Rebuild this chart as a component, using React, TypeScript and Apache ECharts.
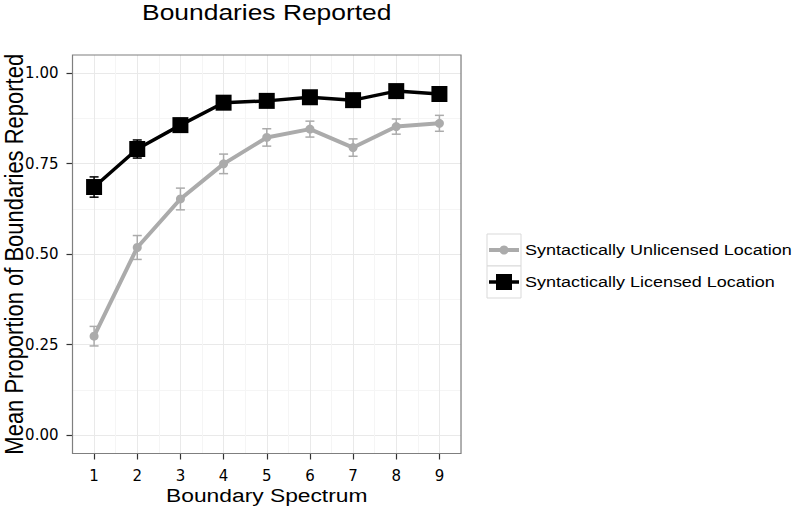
import React, { useEffect, useRef } from "react";
import * as echarts from "echarts";

const categories = [1, 2, 3, 4, 5, 6, 7, 8, 9];
const tickLabels = ["1", "2", "3", "4", "5", "6", "7", "8", "9"];
const yTickValues = [0, 0.25, 0.5, 0.75, 1.0];
const licensedMean = [0.685, 0.79, 0.856, 0.918, 0.923, 0.933, 0.925, 0.95, 0.942];
const licensedErr = [0.028, 0.025, 0.018, 0.015, 0.015, 0.012, 0.012, 0.012, 0.012];
const unlicensedMean = [0.273, 0.518, 0.652, 0.749, 0.822, 0.845, 0.794, 0.852, 0.861];
const unlicensedErr = [0.027, 0.033, 0.03, 0.027, 0.024, 0.022, 0.024, 0.021, 0.022];
const seriesNames = ["Syntactically Unlicensed Location", "Syntactically Licensed Location"];

const FONT = "'Liberation Sans', Arial, Helvetica, sans-serif";
const TICKFONT = "'DejaVu Sans', 'Liberation Sans', sans-serif";
const GRAY = "#ababab";
const BLACK = "#000000";
const SX = 1.2;

const PL = 72.5, PR = 461, PT = 55, PB = 453.5;

function errorBars(mean: number[], err: number[]) {
  return categories.map((c, i) => [c, mean[i] - err[i], mean[i] + err[i]]);
}

function errRender(color: string, w: number, lw: number) {
  return (params: any, api: any) => {
    const x = api.value(0);
    const lo = api.value(1);
    const hi = api.value(2);
    const t = api.coord([x, hi]);
    const b = api.coord([x, lo]);
    const style = { stroke: color, lineWidth: lw };
    return {
      type: "group",
      children: [
        { type: "line", shape: { x1: t[0], y1: t[1], x2: b[0], y2: b[1] }, style },
        { type: "line", shape: { x1: t[0] - w, y1: t[1], x2: t[0] + w, y2: t[1] }, style },
        { type: "line", shape: { x1: b[0] - w, y1: b[1], x2: b[0] + w, y2: b[1] }, style },
      ],
    };
  };
}

export default function App() {
  const ref = useRef<HTMLDivElement>(null);
  useEffect(() => {
    if (!ref.current) return;
    const chart = echarts.init(ref.current, null, { renderer: "svg" });
    const option: any = {
      animation: false,
      backgroundColor: "#ffffff",
      textStyle: { fontFamily: FONT },
      grid: [
        { left: PL, right: 800 - PR, top: PT, bottom: 509 - PB, show: false },
        { left: PL, right: 800 - PR, top: 73, bottom: 509 - 435, show: false },
      ],
      xAxis: [
        {
          gridIndex: 0,
          type: "value",
          min: 0.5,
          max: 9.5,
          interval: 0.5,
          axisLine: { show: false },
          axisTick: { show: false },
          axisLabel: { show: false },
          splitLine: { show: true, lineStyle: { color: ["#f5f5f5", "#e9e9e9"], width: 1 } },
        },
        {
          gridIndex: 0,
          type: "category",
          data: tickLabels,
          boundaryGap: true,
          position: "bottom",
          axisLine: { show: false },
          axisTick: { show: true, alignWithLabel: true, length: 6, lineStyle: { color: "#333", width: 1.2 } },
          axisLabel: { color: "#000", fontSize: 15, margin: 15, fontFamily: TICKFONT },
          splitLine: { show: false },
        },
        {
          gridIndex: 1,
          type: "value",
          min: 0.5,
          max: 9.5,
          show: false,
        },
      ],
      yAxis: [
        { gridIndex: 0, type: "value", min: -0.05, max: 1.05, show: false },
        {
          gridIndex: 1,
          type: "value",
          min: 0,
          max: 1,
          interval: 0.125,
          position: "left",
          axisLine: { show: false },
          axisTick: { show: false },
          axisLabel: { show: false },
          splitLine: { show: true, lineStyle: { color: ["#e9e9e9", "#f5f5f5"], width: 1 } },
        },
        {
          gridIndex: 1,
          type: "value",
          min: 0,
          max: 1,
          interval: 0.25,
          position: "left",
          axisLine: { show: false },
          axisTick: { show: true, length: 6, lineStyle: { color: "#333", width: 1.2 } },
          axisLabel: {
            color: "#000",
            fontSize: 15,
            margin: 14,
            fontFamily: TICKFONT,
            formatter: (v: number) => (yTickValues.includes(v) ? v.toFixed(2) : ""),
          },
          splitLine: { show: false },
        },
      ],
      series: [
        {
          type: "custom",
          name: seriesNames[0] + " err",
          xAxisIndex: 2,
          yAxisIndex: 1,
          renderItem: errRender(GRAY, 4.5, 1.5),
          encode: { x: 0, y: [1, 2] },
          data: errorBars(unlicensedMean, unlicensedErr),
          z: 2,
          silent: true,
        },
        {
          type: "line",
          name: seriesNames[0],
          xAxisIndex: 2,
          yAxisIndex: 1,
          data: categories.map((c, i) => [c, unlicensedMean[i]]),
          symbol: "circle",
          symbolSize: 9,
          lineStyle: { color: GRAY, width: 4 },
          itemStyle: { color: GRAY },
          z: 3,
          silent: true,
        },
        {
          type: "custom",
          name: seriesNames[1] + " err",
          xAxisIndex: 2,
          yAxisIndex: 1,
          renderItem: errRender(BLACK, 4.5, 1.5),
          encode: { x: 0, y: [1, 2] },
          data: errorBars(licensedMean, licensedErr),
          z: 4,
          silent: true,
        },
        {
          type: "line",
          name: seriesNames[1],
          xAxisIndex: 2,
          yAxisIndex: 1,
          data: categories.map((c, i) => [c, licensedMean[i]]),
          symbol: "rect",
          symbolSize: 16,
          lineStyle: { color: BLACK, width: 3.5 },
          itemStyle: { color: BLACK },
          z: 5,
          silent: true,
        },
      ],
      graphic: [
        {
          type: "rect",
          shape: { x: PL, y: PT, width: PR - PL, height: PB - PT },
          style: { fill: "none", stroke: "#7f7f7f", lineWidth: 1.2 },
          z: 100,
          silent: true,
        },
        {
          type: "text",
          x: (PL + PR) / 2,
          y: 12,
          scaleX: SX,
          style: { text: "Boundaries Reported", fontSize: 22, fill: "#000", align: "center", verticalAlign: "middle", fontFamily: FONT },
          z: 100,
        },
        {
          type: "text",
          x: (PL + PR) / 2,
          y: 495,
          scaleX: SX,
          style: { text: "Boundary Spectrum", fontSize: 19, fill: "#000", align: "center", verticalAlign: "middle", fontFamily: FONT },
          z: 100,
        },
        {
          type: "text",
          x: 14.5,
          y: (PT + PB) / 2,
          rotation: Math.PI / 2,
          scaleY: 1.15,
          style: { text: "Mean Proportion of Boundaries Reported", fontSize: 22, fill: "#000", align: "center", verticalAlign: "middle", fontFamily: FONT },
          z: 100,
        },
        // legend key 1
        { type: "rect", shape: { x: 487, y: 234, width: 34, height: 32 }, style: { fill: "#fff", stroke: "#d9d9d9", lineWidth: 1 }, z: 100 },
        { type: "line", shape: { x1: 489, y1: 250, x2: 519, y2: 250 }, style: { stroke: GRAY, lineWidth: 4 }, z: 101 },
        { type: "circle", shape: { cx: 504, cy: 250, r: 4.5 }, style: { fill: GRAY }, z: 102 },
        { type: "text", x: 525, y: 250, scaleX: SX, style: { text: seriesNames[0], fontSize: 15, fill: "#000", verticalAlign: "middle", fontFamily: FONT }, z: 100 },
        // legend key 2
        { type: "rect", shape: { x: 487, y: 266, width: 34, height: 32 }, style: { fill: "#fff", stroke: "#d9d9d9", lineWidth: 1 }, z: 100 },
        { type: "line", shape: { x1: 489, y1: 282, x2: 519, y2: 282 }, style: { stroke: BLACK, lineWidth: 3.5 }, z: 101 },
        { type: "rect", shape: { x: 496, y: 274, width: 16, height: 16 }, style: { fill: BLACK }, z: 102 },
        { type: "text", x: 525, y: 282, scaleX: SX, style: { text: seriesNames[1], fontSize: 15, fill: "#000", verticalAlign: "middle", fontFamily: FONT }, z: 100 },
      ],
    };
    chart.setOption(option);
    return () => chart.dispose();
  }, []);
  return (
    <div
      ref={ref}
      style={{ position: "fixed", left: 0, top: 0, width: 800, height: 509, background: "#fff" }}
    />
  );
}
